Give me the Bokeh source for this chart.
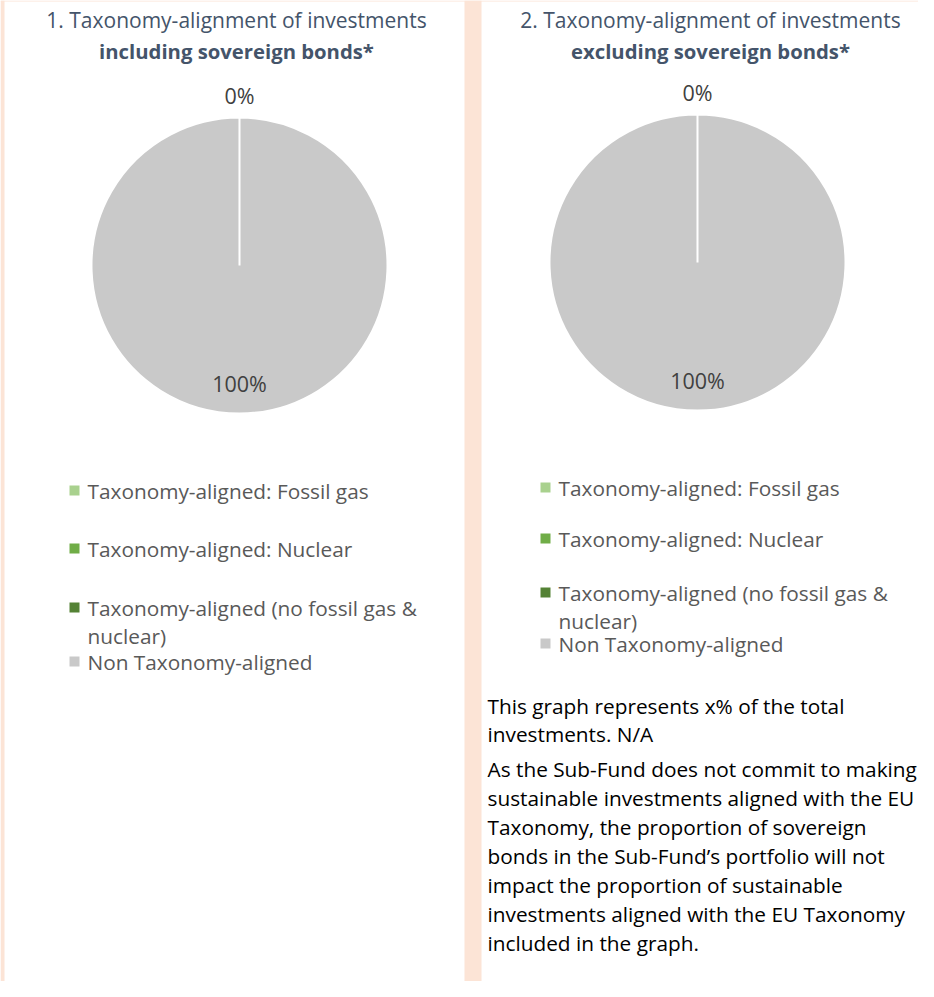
import numpy as np
from bokeh.plotting import figure
from bokeh.models import Range1d, ColumnDataSource
from bokeh.core.properties import value
from bokeh.embed import file_html
from bokeh.resources import INLINE

# ---------------- data ----------------
categories = [
    "Taxonomy-aligned: Fossil gas",
    "Taxonomy-aligned: Nuclear",
    "Taxonomy-aligned (no fossil gas & nuclear)",
    "Non Taxonomy-aligned",
]
legend_lines_left = [
    ["Taxonomy-aligned: Fossil gas"],
    ["Taxonomy-aligned: Nuclear"],
    ["Taxonomy-aligned (no fossil gas &", "nuclear)"],
    ["Non Taxonomy-aligned"],
]
legend_lines_right = legend_lines_left
incl_values = [0, 0, 0, 100]
excl_values = [0, 0, 0, 100]
colors = ["#A9D18E", "#70AD47", "#548235", "#C9C9C9"]
title1 = ["1. Taxonomy-alignment of investments", "including sovereign bonds*"]
title2 = ["2. Taxonomy-alignment of investments", "excluding sovereign bonds*"]
note_lines = [
    "This graph represents x% of the total",
    "investments. N/A",
    "As the Sub-Fund does not commit to making",
    "sustainable investments aligned with the EU",
    "Taxonomy, the proportion of sovereign",
    "bonds in the Sub-Fund\u2019s portfolio will not",
    "impact the proportion of sustainable",
    "investments aligned with the EU Taxonomy",
    "included in the graph.",
]

# ---------------- layout ----------------
W, H = 918, 981
FONT = "Open Sans"
PEACH = "#FCE4D6"
TITLE_C = "#44546A"
LEG_C = "#595959"
LAB_C = "#404040"


def Y(ys):
    """screen y -> data y"""
    return H - ys


def X(xs):
    return xs


p = figure(width=W, height=H, output_backend="svg", toolbar_location=None,
           x_range=Range1d(0, W), y_range=Range1d(0, H), min_border=0)
p.axis.visible = False
p.grid.visible = False
p.outline_line_color = None
p.background_fill_color = "white"
p.border_fill_color = "white"

# peach frame strips (left edge, middle separator, top edge)
p.quad(left=[X(0), X(464), X(0)], right=[X(4), X(481), X(W)],
       bottom=[0, 0, Y(1)], top=[H, H, H],
       fill_color=PEACH, line_color=None)


def draw_pie(cx, cy, r, vals):
    total = float(sum(vals))
    fr = np.array(vals, dtype=float) / total
    cum = np.concatenate([[0.0], np.cumsum(fr)])
    start = np.pi / 2 - 2 * np.pi * cum[:-1]
    span = np.minimum(2 * np.pi * fr, 2 * np.pi - 1e-4)
    end = start - span
    src = ColumnDataSource(dict(x=[X(cx)] * len(vals), y=[Y(cy)] * len(vals),
                                s=list(start), e=list(end), c=colors))
    p.wedge(x="x", y="y", radius=r, start_angle="s", end_angle="e",
            direction="clock", fill_color="c", line_color="white",
            line_width=2, source=src)
    aligned = sum(vals[:3]) / total
    non = vals[3] / total
    a_mid = np.pi / 2 - np.pi * aligned
    n_mid = np.pi / 2 - 2 * np.pi * aligned - np.pi * non
    lx = [X(cx) + (r + 22) * np.cos(a_mid), X(cx) + 0.8 * r * np.cos(n_mid)]
    ly = [Y(cy) + (r + 22) * np.sin(a_mid), Y(cy) + 0.8 * r * np.sin(n_mid)]
    txt = [f"{aligned * 100:.0f}%", f"{non * 100:.0f}%"]
    p.text(x=lx, y=ly, text=txt, text_font=value(FONT), text_font_size="21.5px",
           text_color=LAB_C, text_align="center", text_baseline="middle")


def draw_title(cx, lines):
    p.text(x=[X(cx)], y=[Y(19)], text=[lines[0]], text_font=value(FONT),
           text_font_size="21px", text_color=TITLE_C, text_align="center",
           text_baseline="middle")
    p.text(x=[X(cx)], y=[Y(50)], text=[lines[1]], text_font=value(FONT),
           text_font_size="20.3px", text_font_style="bold", text_color=TITLE_C,
           text_align="center", text_baseline="middle")


def draw_legend(tx, rows_y, lines_list):
    mx, my, mc, txs, tys, tt = [], [], [], [], [], []
    k = 0
    for i, lines in enumerate(lines_list):
        mx.append(X(tx) - 13)
        my.append(Y(rows_y[k]))
        mc.append(colors[i])
        for ln in lines:
            txs.append(X(tx))
            tys.append(Y(rows_y[k]))
            tt.append(ln)
            k += 1
    p.rect(x=mx, y=my, width=10, height=10, fill_color=mc, line_color=None)
    p.text(x=txs, y=tys, text=tt, text_font=value(FONT), text_font_size="20.8px",
           text_color=LEG_C, text_align="left", text_baseline="middle")


# left panel
draw_title(236, title1)
draw_pie(239, 265, 148, incl_values)
draw_legend(87, [490, 548, 607, 635, 661], legend_lines_left)

# right panel
draw_title(710, title2)
draw_pie(697, 262, 148, excl_values)
draw_legend(558, [487, 538, 592, 620, 643], legend_lines_right)

# note text
note_y = [705, 733, 768, 797, 826, 855, 884, 913, 942]
p.text(x=[X(487)] * len(note_lines), y=[Y(v) for v in note_y], text=note_lines,
       text_font=value(FONT), text_font_size="20.8px", text_color="black",
       text_align="left", text_baseline="middle")

open("out.html", "w").write(file_html(p, INLINE))
